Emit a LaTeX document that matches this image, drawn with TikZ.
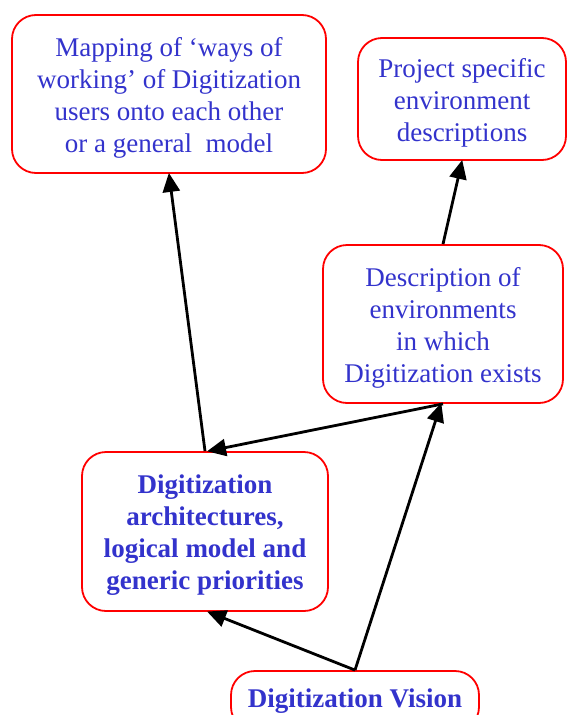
\documentclass[tikz,border=0pt]{standalone}
\usepackage{fontspec}
\setmainfont{Liberation Serif}
\usetikzlibrary{arrows.meta}
\definecolor{txtblue}{RGB}{51,51,204}
\definecolor{boxred}{RGB}{255,0,0}
\newcommand\tstrut{\rule{0pt}{26.5pt}}
\tikzset{
  box/.style={draw=boxred, line width=1.8pt, rounded corners=24pt, fill=white,
    align=center, text=txtblue, inner sep=0pt,
    font=\fontsize{27}{32}\selectfont},
  boldbox/.style={box, font=\fontsize{27}{32}\selectfont\bfseries},
  arr/.style={draw=black, line width=2.8pt, -{Triangle[length=19pt,width=17pt]}, shorten >=-1pt}
}
\begin{document}
\begin{tikzpicture}[x=1pt,y=-1pt]
\useasboundingbox (0,0) rectangle (568,715);
\clip (0,0) rectangle (568,715);
\node[box, minimum width=314pt, minimum height=158pt] (A) at (169,94)
  {\tstrut Mapping of ‘ways of\\working’ of Digitization\\users onto each other\\or a general\ \ model};
\node[box, minimum width=208pt, minimum height=122pt] (B) at (462,99)
  {\tstrut Project specific\\environment\\descriptions};
\node[box, minimum width=240pt, minimum height=158pt] (C) at (443,324)
  {\tstrut Description of\\environments\\in which\\Digitization exists};
\node[boldbox, minimum width=246pt, minimum height=159pt] (D) at (205,531.5)
  {\tstrut Digitization\\architectures,\\logical model and\\generic priorities};
\node[boldbox, minimum width=248pt, minimum height=60pt] (E) at (355,701)
  {Digitization Vision};
\draw[arr] (D.north) -- (A.south);
\draw[arr] (C.north) -- (B.south);
\draw[arr] (C.south) -- ([xshift=3pt]D.north);
\draw[arr] (E.north) -- ([xshift=3pt]D.south);
\draw[arr] (E.north) -- ([xshift=-2pt]C.south);
\end{tikzpicture}
\end{document}
